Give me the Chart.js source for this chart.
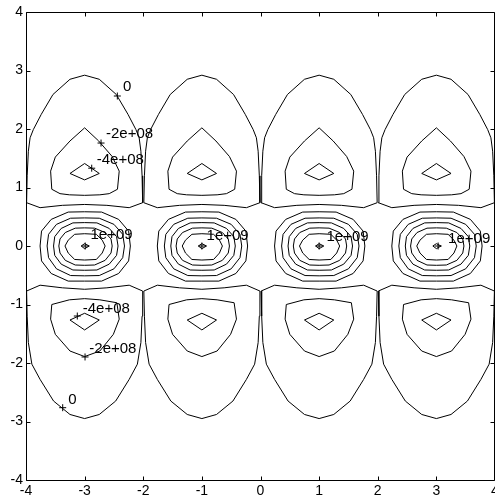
<!DOCTYPE html>
<html>
<head>
<meta charset="utf-8">
<script src="https://cdn.jsdelivr.net/npm/chart.js@4/dist/chart.umd.min.js"></script>
<style>
html,body{margin:0;padding:0;background:#fff;overflow:hidden;}
#wrap{width:530px;height:503px;}
</style>
</head>
<body>
<div id="wrap"><canvas id="c" width="530" height="503"></canvas></div>
<script>
// ---- data ----
const xTicks = [-4,-3,-2,-1,0,1,2,3,4];
const yTicks = [-4,-3,-2,-1,0,1,2,3,4];
const cellCenters = [-3,-1,1,3];

// contour shapes for one cell: [dx from cell centre, y]
const zeroUpper = [[-0.99,0.74],[-0.98,1.2],[-0.96,1.62],[-0.93,1.85],[-0.875,1.99],[-0.74,2.25],[-0.54,2.59],[-0.25,2.85],[0,2.92],[0.25,2.85],[0.54,2.59],[0.74,2.25],[0.875,1.99],[0.93,1.85],[0.96,1.62],[0.98,1.2],[0.99,0.74],[0.76,0.655],[0.38,0.695],[0,0.71],[-0.38,0.695],[-0.76,0.655],[-0.99,0.74]];
const zeroLower = [[-0.99,-0.77],[-0.98,-1.2],[-0.96,-1.65],[-0.9,-2.02],[-0.76,-2.28],[-0.53,-2.65],[-0.25,-2.88],[0,-2.95],[0.25,-2.88],[0.53,-2.65],[0.76,-2.28],[0.9,-2.02],[0.96,-1.65],[0.98,-1.2],[0.99,-0.77],[0.76,-0.67],[0.38,-0.715],[0,-0.74],[-0.38,-0.715],[-0.76,-0.67],[-0.99,-0.77]];
const neg2Upper = [[0,2.02],[0.24,1.795],[0.47,1.53],[0.59,1.28],[0.56,0.97],[0.42,0.895],[0.26,0.875],[0,0.866],[-0.26,0.875],[-0.42,0.895],[-0.56,0.97],[-0.58,1.28],[-0.5,1.52],[-0.25,1.795],[0,2.02]];
const neg2Lower = [[0,-0.9],[0.26,-0.92],[0.55,-0.97],[0.59,-1.25],[0.49,-1.51],[0.26,-1.795],[0,-1.89],[-0.25,-1.795],[-0.5,-1.51],[-0.58,-1.25],[-0.56,-1.0],[-0.26,-0.92],[0,-0.9]];
const neg4Upper = [[-0.25,1.24],[0,1.41],[0.25,1.24],[0,1.13],[-0.25,1.24]];
const neg4Lower = [[-0.25,-1.265],[0,-1.15],[0.25,-1.265],[0,-1.435],[-0.25,-1.265]];
const pos1 = [[0,0.585],[0.29,0.58],[0.58,0.455],[0.75,0.255],[0.78,0],[0.75,-0.255],[0.58,-0.47],[0.29,-0.6],[0,-0.6],[-0.28,-0.6],[-0.57,-0.47],[-0.735,-0.255],[-0.76,0],[-0.735,0.255],[-0.57,0.455],[-0.28,0.58],[0,0.585]];
const pos2 = [[0,0.48],[0.25,0.475],[0.5,0.37],[0.65,0.2],[0.68,0],[0.65,-0.2],[0.5,-0.39],[0.25,-0.505],[0,-0.51],[-0.24,-0.505],[-0.48,-0.39],[-0.615,-0.2],[-0.64,0],[-0.615,0.2],[-0.48,0.37],[-0.24,0.475],[0,0.48]];
const pos3 = [[0,0.4],[0.21,0.395],[0.42,0.3],[0.545,0.16],[0.57,0],[0.545,-0.16],[0.42,-0.31],[0.21,-0.41],[0,-0.415],[-0.2,-0.41],[-0.4,-0.31],[-0.51,-0.16],[-0.53,0],[-0.51,0.16],[-0.4,0.3],[-0.2,0.395],[0,0.4]];
const pos4 = [[0,0.31],[0.17,0.305],[0.35,0.23],[0.45,0.12],[0.47,0],[0.45,-0.12],[0.35,-0.245],[0.17,-0.325],[0,-0.33],[-0.16,-0.325],[-0.33,-0.245],[-0.42,-0.12],[-0.44,0],[-0.42,0.12],[-0.33,0.23],[-0.16,0.305],[0,0.31]];
const pos5 = [[0,0.21],[0.2,0.2],[0.3,0.1],[0.35,0],[0.3,-0.12],[0.2,-0.23],[0,-0.24],[-0.17,-0.23],[-0.28,-0.12],[-0.335,0],[-0.28,0.1],[-0.17,0.2],[0,0.21]];
const pos6 = [[-0.06,0],[0,0.04],[0.08,0],[0,-0.045],[-0.06,0]];

// contour labels
const labelTexts = ['0','-2e+08','-4e+08','1e+09','1e+09','1e+09','1e+09','-4e+08','-2e+08','0'];
const labelX = [-2.345,-2.635,-2.794,-2.90,-0.92,1.126,3.20,-3.032,-2.92,-3.278];
const labelY = [2.72,1.915,1.47,0.19,0.17,0.15,0.12,-1.077,-1.76,-2.624];
const markerX = [-2.442,-2.72,-2.879,-2.99,-1,1,3.03,-3.125,-2.993,-3.374];
const markerY = [2.564,1.76,1.33,0,0,0,0,-1.197,-1.897,-2.764];

// ---- build datasets ----
const shapes = [zeroUpper, zeroLower, neg2Upper, neg2Lower, neg4Upper, neg4Lower, pos1, pos2, pos3, pos4, pos5, pos6];
const datasets = [];
cellCenters.forEach(cx => {
  shapes.forEach(s => {
    datasets.push({
      type: 'scatter',
      data: s.map(p => ({x: cx + p[0], y: p[1]})),
      showLine: true, borderColor: '#000', borderWidth: 1,
      pointRadius: 0, pointHoverRadius: 0, fill: false, tension: 0
    });
  });
});
datasets.push({
  type: 'scatter',
  data: markerX.map((x,i) => ({x: x, y: markerY[i]})),
  showLine: false, pointStyle: 'cross', pointRadius: 3.5,
  borderColor: '#000', borderWidth: 1, backgroundColor: '#000'
});

const FONT = '"Liberation Sans", Arial, Helvetica, sans-serif';

const framePlugin = {
  id: 'frame',
  afterDatasetsDraw(chart) {
    const ctx = chart.ctx, a = chart.chartArea;
    const xs = chart.scales.x, ys = chart.scales.y;
    ctx.save();
    // labels
    ctx.fillStyle = '#000';
    ctx.font = '15px ' + FONT;
    ctx.textAlign = 'left';
    ctx.textBaseline = 'middle';
    labelTexts.forEach((t,i) => {
      ctx.fillText(t, xs.getPixelForValue(labelX[i]), ys.getPixelForValue(labelY[i]));
    });
    // frame
    ctx.strokeStyle = '#000';
    ctx.lineWidth = 1;
    const L = Math.round(a.left)+0.5, R = Math.round(a.right)-0.5, T = Math.round(a.top)+0.5, B = Math.round(a.bottom)+0.5;
    ctx.beginPath();
    ctx.moveTo(L,T); ctx.lineTo(R,T); ctx.lineTo(R,B); ctx.lineTo(L,B); ctx.closePath();
    const tl = 4;
    xTicks.forEach(v => {
      const p = Math.round(xs.getPixelForValue(v)) + 0.5;
      ctx.moveTo(p,B); ctx.lineTo(p,B-tl);
      ctx.moveTo(p,T); ctx.lineTo(p,T+tl);
    });
    yTicks.forEach(v => {
      const p = Math.round(ys.getPixelForValue(v)) + 0.5;
      ctx.moveTo(L,p); ctx.lineTo(L+tl,p);
      ctx.moveTo(R,p); ctx.lineTo(R-tl,p);
    });
    ctx.stroke();
    ctx.restore();
  }
};

new Chart(document.getElementById('c'), {
  type: 'scatter',
  data: { datasets },
  options: {
    responsive: false,
    animation: false,
    devicePixelRatio: 1,
    layout: { padding: { top: 12, right: 35, left: 0, bottom: 0 } },
    plugins: { legend: { display: false }, tooltip: { enabled: false } },
    scales: {
      x: {
        type: 'linear', min: -4, max: 4,
        afterBuildTicks: s => { s.ticks = xTicks.map(v => ({value: v})); },
        afterFit: s => { s.height = 23; },
        grid: { display: false, drawTicks: false },
        border: { display: false },
        ticks: { color: '#000', font: { family: FONT, size: 14 }, padding: 3, maxRotation: 0, autoSkip: false }
      },
      y: {
        type: 'linear', min: -4, max: 4,
        afterBuildTicks: s => { s.ticks = yTicks.map(v => ({value: v})); },
        afterFit: s => { s.width = 26; },
        grid: { display: false, drawTicks: false },
        border: { display: false },
        ticks: { color: '#000', font: { family: FONT, size: 14 }, padding: 3, autoSkip: false }
      }
    }
  },
  plugins: [framePlugin]
});
</script>
</body>
</html>
